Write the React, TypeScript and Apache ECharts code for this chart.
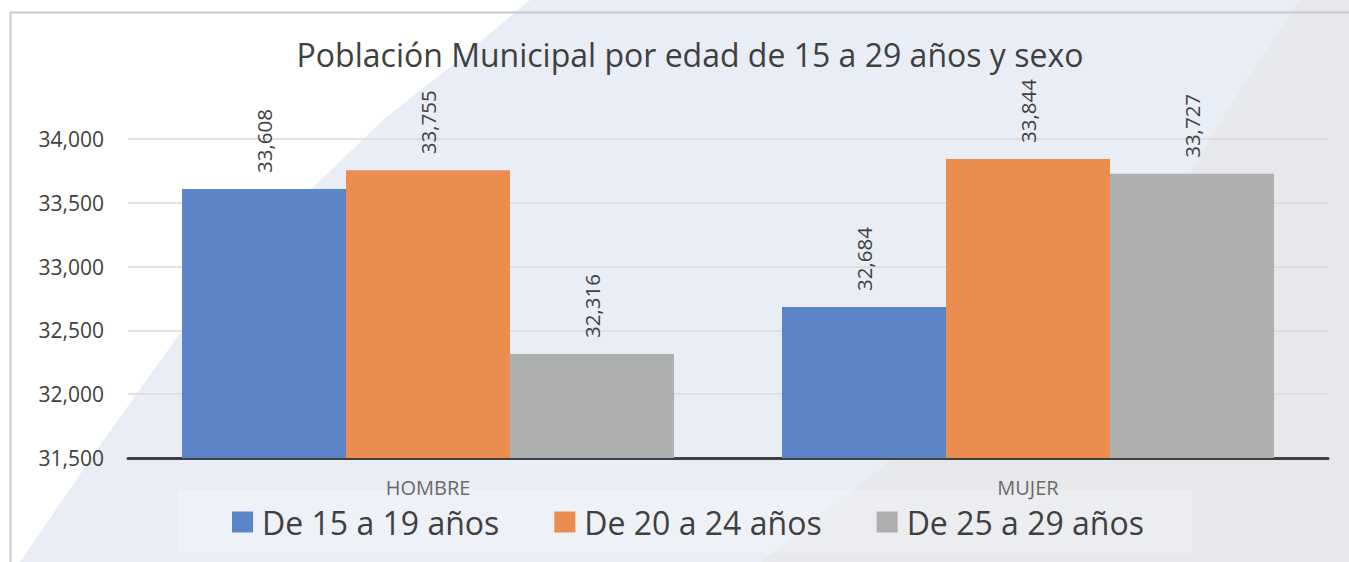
import React, { useEffect, useRef } from "react";
import * as echarts from "echarts";

const categories = ["HOMBRE", "MUJER"];
const seriesNames = ["De 15 a 19 años", "De 20 a 24 años", "De 25 a 29 años"];
const age15to19 = [33608, 32684];
const age20to24 = [33755, 33844];
const age25to29 = [32316, 33727];
const yTicks = [31500, 32000, 32500, 33000, 33500, 34000];
const titleText = "Población Municipal por edad de 15 a 29 años y sexo";

const colors = ["#5b84c9", "#eb8d4f", "#aeafaf"];
const FONT = "Open Sans";
const fmt = (v: number) => v.toLocaleString("en-US");

export default function App() {
  const ref = useRef<HTMLDivElement>(null);
  useEffect(() => {
    if (!ref.current) return;
    const chart = echarts.init(ref.current, null, { renderer: "svg" });
    const seriesData = [age15to19, age20to24, age25to29];
    chart.setOption({
      animation: false,
      backgroundColor: "#e9eef6",
      textStyle: { fontFamily: FONT },
      title: {
        text: titleText,
        left: 685,
        textAlign: "center",
        top: 33,
        textStyle: { fontFamily: FONT, fontSize: 32, fontWeight: "normal", color: "#404040" },
      },
      graphic: [
        {
          type: "polygon",
          z: -100,
          silent: true,
          shape: { points: [[0, 0], [530, 0], [450, 67], [383, 120], [300, 200], [180, 333], [100, 445], [20, 562], [0, 562]] },
          style: { fill: "#ffffff" },
        },
        {
          type: "polygon",
          z: -100,
          silent: true,
          shape: { points: [[1300, 0], [1349, 0], [1349, 562], [761, 562], [891, 460], [1040, 320], [1180, 190], [1234, 100]] },
          style: { fill: "#e7e8ec" },
        },
        {
          type: "rect",
          z: -50,
          silent: true,
          shape: { x: 178, y: 490, width: 1014, height: 63 },
          style: { fill: "rgba(255,255,255,0.22)" },
        },
        {
          type: "line",
          z: -40,
          silent: true,
          shape: { x1: 10.5, y1: 12, x2: 10.5, y2: 562 },
          style: { stroke: "#c9c9c9", lineWidth: 2 },
        },
        {
          type: "line",
          z: -40,
          silent: true,
          shape: { x1: 10, y1: 12.5, x2: 1349, y2: 12.5 },
          style: { stroke: "#c9c9c9", lineWidth: 2 },
        },
      ],
      legend: {
        data: seriesNames,
        left: 227,
        top: 501,
        icon: "rect",
        itemWidth: 21,
        itemHeight: 21,
        itemGap: 55,
        textStyle: { fontFamily: FONT, fontSize: 32, color: "#404040", padding: [0, 0, 0, 4] },
      },
      grid: { left: 128, right: 21, top: 139, bottom: 104, containLabel: false },
      xAxis: {
        type: "category",
        data: categories,
        axisLine: { show: true, lineStyle: { color: "#404040", width: 3 } },
        axisTick: { show: false },
        axisLabel: { fontFamily: FONT, fontSize: 20, color: "#6a6a6a", margin: 19 },
      },
      yAxis: {
        type: "value",
        min: yTicks[0],
        max: yTicks[yTicks.length - 1],
        interval: 500,
        axisLine: { show: false },
        axisTick: { show: false },
        splitLine: { lineStyle: { color: "#d9d9d9", width: 1.5 } },
        axisLabel: {
          fontFamily: FONT,
          fontSize: 21,
          color: "#404040",
          margin: 24,
          formatter: (v: number) => fmt(v),
        },
      },
      series: seriesNames.map((name, i) => ({
        name,
        type: "bar",
        data: seriesData[i],
        barGap: "0%",
        barCategoryGap: "18%",
        itemStyle: { color: colors[i] },
        label: {
          show: true,
          position: "top",
          rotate: 90,
          align: "left",
          verticalAlign: "middle",
          distance: 16,
          fontFamily: FONT,
          fontSize: 20.5,
          color: "#404040",
          formatter: (p: any) => fmt(p.value),
        },
      })),
    });
    return () => chart.dispose();
  }, []);
  return (
    <div
      ref={ref}
      style={{ position: "fixed", left: 0, top: 0, width: 1349, height: 562 }}
    />
  );
}
